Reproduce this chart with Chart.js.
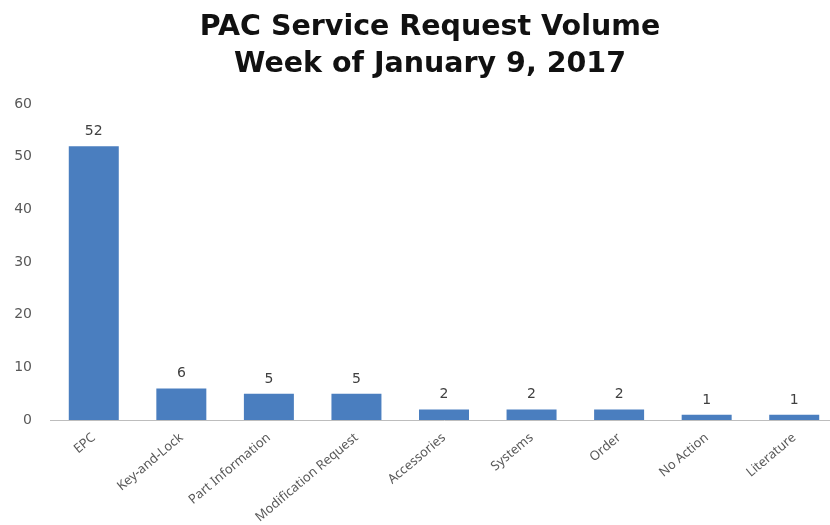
<!DOCTYPE html>
<html>
<head>
<meta charset="utf-8">
<script src="https://cdn.jsdelivr.net/npm/chart.js@4"></script>
<style>
  html, body { margin: 0; padding: 0; background: #fff; overflow: hidden; }
  #wrap { width: 830px; height: 525px; overflow: hidden; }
</style>
</head>
<body>
<div id="wrap"><canvas id="chart" width="850" height="525"></canvas></div>
<script>
const categories = ['EPC', 'Key-and-Lock', 'Part Information', 'Modification Request',
  'Accessories', 'Systems', 'Order', 'No Action', 'Literature'];
const requestCounts = [52, 6, 5, 5, 2, 2, 2, 1, 1];
const titleLines = ['PAC Service Request Volume', 'Week of January 9, 2017'];

// draws the number above each bar
const valueLabels = {
  id: 'valueLabels',
  afterDatasetsDraw(chart) {
    const ctx = chart.ctx;
    const meta = chart.getDatasetMeta(0);
    ctx.save();
    ctx.font = '14px "DejaVu Sans"';
    ctx.fillStyle = '#404040';
    ctx.textAlign = 'center';
    ctx.textBaseline = 'alphabetic';
    meta.data.forEach((bar, i) => {
      ctx.fillText(requestCounts[i], bar.x, bar.y - 11);
    });
    ctx.restore();
  }
};

// two-line title, centred a bit right of the canvas middle like the original
const chartTitle = {
  id: 'chartTitle',
  afterDraw(chart) {
    const ctx = chart.ctx;
    ctx.save();
    ctx.font = 'bold 28.5px "DejaVu Sans"';
    ctx.fillStyle = '#111';
    ctx.textAlign = 'center';
    ctx.textBaseline = 'alphabetic';
    ctx.fillText(titleLines[0], 430, 35);
    ctx.fillText(titleLines[1], 430, 72);
    ctx.restore();
  }
};

new Chart(document.getElementById('chart').getContext('2d'), {
  type: 'bar',
  data: {
    labels: categories,
    datasets: [{
      label: 'Requests',
      data: requestCounts,
      backgroundColor: '#4a7ebf',
      borderWidth: 0,
      categoryPercentage: 1,
      barPercentage: 0.571
    }]
  },
  options: {
    responsive: false,
    animation: false,
    layout: { padding: { left: 0, right: 12, top: 104, bottom: 0 } },
    scales: {
      x: {
        grid: { display: false, drawTicks: false },
        border: { display: true, color: '#bdbdbd', width: 1 },
        afterFit: (axis) => { axis.height = 105; },
        ticks: {
          autoSkip: false,
          maxRotation: 40,
          minRotation: 40,
          padding: 10,
          color: '#595959',
          font: { family: 'Noto Sans', size: 13 }
        }
      },
      y: {
        min: 0,
        max: 60,
        grid: { display: false, drawTicks: false },
        border: { display: false },
        afterFit: (axis) => { axis.width = 50; },
        ticks: {
          stepSize: 10,
          padding: 18,
          color: '#595959',
          font: { family: 'DejaVu Sans', size: 14 }
        }
      }
    },
    plugins: {
      legend: { display: false },
      tooltip: { enabled: false },
      title: { display: false }
    }
  },
  plugins: [valueLabels, chartTitle]
});
</script>
</body>
</html>
